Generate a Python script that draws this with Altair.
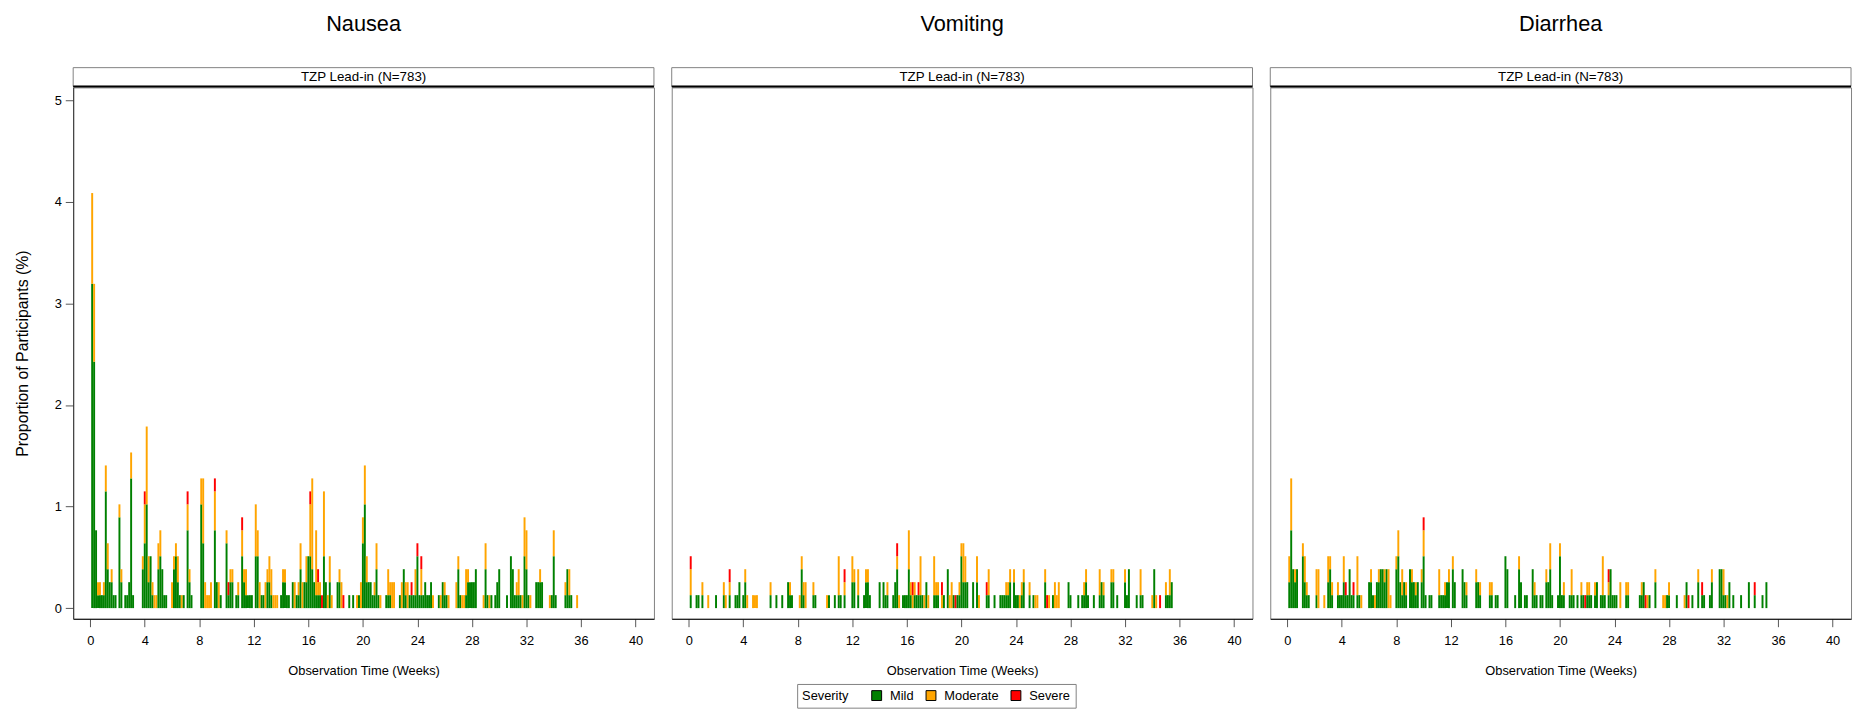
import altair as alt
import pandas as pd

N_PARTICIPANTS = 783
PANELS = ["Nausea", "Vomiting", "Diarrhea"]
HEADER = "TZP Lead-in (N=783)"
SEVERITIES = ["Mild", "Moderate", "Severe"]
COLORS = ["#008000", "#FFA500", "#FF0000"]
X_TICKS = list(range(0, 41, 4))
Y_TICKS = [0, 1, 2, 3, 4, 5]

# (study day, mild count, moderate count, severe count)
NAUSEA = [
    (1, 25, 7, 0), (2, 19, 6, 0), (3, 6, 0, 0), (4, 1, 1, 0), (5, 1, 1, 0), (6, 1, 0, 0), (7, 1, 1, 0),
    (8, 9, 2, 0), (9, 3, 2, 0), (10, 2, 0, 0), (11, 2, 1, 0), (12, 1, 0, 0), (13, 1, 0, 0), (15, 7, 1, 0),
    (16, 2, 1, 0), (18, 1, 0, 0), (19, 1, 0, 0), (20, 2, 0, 0), (21, 10, 2, 0), (22, 1, 0, 0),
    (27, 3, 1, 0), (28, 5, 3, 1), (29, 8, 6, 0), (30, 2, 2, 0), (31, 4, 0, 0), (32, 1, 1, 0), (33, 0, 1, 0),
    (34, 0, 1, 0), (35, 3, 2, 0), (36, 4, 2, 0), (37, 3, 0, 0), (38, 1, 0, 0), (39, 1, 0, 0), (42, 0, 2, 0),
    (43, 3, 1, 0), (44, 4, 1, 0), (45, 2, 2, 0), (46, 1, 0, 0), (47, 0, 1, 0), (48, 1, 0, 0),
    (50, 6, 2, 1), (51, 2, 1, 0), (52, 1, 0, 0), (57, 8, 2, 0), (58, 5, 5, 0), (59, 0, 2, 0), (60, 0, 1, 0),
    (61, 0, 1, 0), (62, 0, 2, 0), (64, 6, 3, 1), (65, 2, 0, 0), (66, 0, 2, 0), (67, 1, 0, 0),
    (70, 5, 1, 0), (71, 1, 0, 1), (72, 2, 1, 0), (73, 2, 1, 0), (75, 1, 0, 0), (76, 1, 1, 0), (78, 4, 2, 1),
    (79, 2, 1, 0), (80, 1, 2, 0), (81, 1, 0, 0), (82, 1, 0, 0), (83, 1, 0, 0),
    (85, 4, 4, 0), (86, 4, 2, 0), (87, 0, 2, 0), (88, 1, 0, 0), (89, 1, 0, 0), (90, 0, 2, 0), (91, 2, 1, 0),
    (92, 2, 2, 0), (93, 1, 2, 0), (94, 0, 1, 0), (95, 0, 1, 0), (96, 0, 1, 0),
    (98, 1, 0, 0), (99, 2, 1, 0), (100, 2, 1, 0), (101, 1, 0, 0), (102, 1, 0, 0), (104, 2, 0, 0),
    (105, 0, 2, 0), (106, 1, 0, 0), (107, 1, 1, 0), (108, 3, 2, 0), (109, 0, 2, 0), (110, 2, 0, 0),
    (111, 2, 2, 0), (112, 4, 0, 0), (113, 4, 4, 1), (114, 3, 7, 0), (115, 2, 0, 0), (116, 1, 5, 0),
    (117, 1, 1, 1), (118, 1, 1, 0), (119, 0, 0, 1), (120, 4, 5, 0), (121, 2, 0, 0), (122, 0, 1, 0),
    (123, 2, 2, 0), (124, 0, 1, 0), (127, 2, 0, 0), (128, 2, 1, 0), (129, 0, 2, 0), (130, 0, 0, 1),
    (133, 1, 0, 0), (135, 1, 0, 0), (137, 0, 1, 0), (138, 1, 0, 0), (139, 0, 2, 0), (140, 5, 2, 0),
    (141, 8, 3, 0), (142, 2, 2, 0), (143, 2, 0, 0), (144, 2, 0, 0), (145, 1, 0, 0), (146, 1, 1, 0),
    (147, 3, 2, 0), (148, 1, 0, 0), (149, 0, 1, 0), (152, 1, 0, 0), (153, 1, 2, 0), (154, 1, 1, 0),
    (155, 0, 2, 0), (156, 0, 2, 0), (159, 1, 0, 0), (160, 0, 2, 0), (161, 3, 0, 0), (162, 1, 1, 0),
    (163, 0, 2, 0), (164, 1, 0, 0), (165, 1, 0, 1), (166, 1, 0, 0), (167, 1, 2, 0), (168, 4, 0, 1),
    (169, 1, 0, 0), (170, 1, 2, 1), (171, 1, 0, 0), (172, 2, 0, 0), (173, 1, 0, 0), (174, 1, 0, 0),
    (175, 2, 0, 0), (176, 0, 1, 0), (179, 1, 0, 0), (180, 0, 1, 0), (181, 2, 0, 0), (182, 1, 1, 0),
    (183, 1, 0, 0), (184, 0, 1, 0), (188, 0, 2, 0), (189, 3, 1, 0), (190, 1, 0, 0), (191, 0, 1, 0),
    (192, 0, 1, 0), (193, 1, 2, 0), (194, 2, 1, 0), (195, 2, 0, 0), (196, 2, 0, 0), (197, 2, 0, 0),
    (198, 3, 0, 0), (202, 0, 1, 0), (203, 3, 2, 0), (204, 1, 0, 0), (205, 0, 1, 0), (206, 1, 0, 0),
    (208, 1, 0, 0), (209, 2, 0, 0), (210, 3, 0, 0), (214, 1, 0, 0), (216, 4, 0, 0), (217, 3, 0, 0),
    (218, 1, 0, 0), (219, 1, 1, 0), (220, 1, 2, 0), (221, 1, 0, 0), (222, 0, 1, 0), (223, 4, 3, 0),
    (224, 3, 3, 0), (225, 1, 0, 0), (226, 0, 1, 0), (229, 2, 0, 0), (230, 2, 0, 0), (231, 2, 1, 0),
    (232, 2, 0, 0), (236, 0, 1, 0), (237, 1, 0, 0), (238, 4, 2, 0), (239, 1, 0, 0), (244, 1, 1, 0),
    (245, 3, 0, 0), (246, 1, 2, 0), (247, 1, 0, 0), (250, 0, 1, 0),
]

VOMITING = [
    (1, 1, 2, 1), (4, 1, 0, 0), (5, 1, 0, 0), (7, 1, 1, 0), (10, 0, 1, 0), (14, 1, 0, 0), (18, 1, 1, 0),
    (19, 0, 1, 0), (21, 1, 1, 1), (24, 1, 0, 0), (25, 1, 0, 0), (26, 2, 0, 0), (28, 1, 0, 0), (29, 2, 1, 0),
    (30, 0, 1, 0), (33, 0, 1, 0), (34, 0, 1, 0), (35, 0, 1, 0),
    (42, 1, 1, 0), (45, 1, 0, 0), (48, 1, 0, 0), (51, 2, 0, 0), (52, 1, 1, 0), (53, 1, 0, 0), (57, 0, 1, 0),
    (58, 3, 1, 0), (59, 1, 1, 0), (60, 0, 2, 0), (64, 1, 1, 0), (65, 1, 0, 0), (71, 0, 1, 0), (72, 1, 0, 0),
    (75, 1, 0, 0), (77, 1, 3, 0), (78, 1, 0, 0), (80, 1, 1, 1),
    (84, 2, 2, 0), (85, 2, 1, 0), (87, 1, 2, 0), (90, 1, 0, 0), (91, 2, 1, 0), (92, 2, 1, 0), (93, 1, 0, 0),
    (98, 2, 0, 0), (100, 2, 0, 0), (101, 1, 0, 0), (102, 1, 1, 0), (105, 1, 0, 0), (106, 2, 0, 0),
    (107, 3, 1, 1), (108, 0, 1, 0), (110, 1, 0, 0), (111, 1, 0, 0), (112, 1, 0, 0), (113, 3, 3, 0),
    (114, 1, 1, 0), (115, 0, 1, 1), (116, 1, 1, 0), (117, 1, 0, 0), (118, 1, 0, 1), (119, 1, 3, 0),
    (120, 1, 0, 0), (121, 0, 1, 0), (122, 2, 0, 0), (123, 0, 1, 0), (126, 1, 3, 0), (127, 1, 1, 0),
    (128, 1, 1, 0), (130, 0, 1, 1), (131, 1, 0, 0), (133, 3, 0, 0), (134, 0, 1, 0), (135, 0, 2, 0),
    (136, 1, 0, 0), (137, 0, 0, 1), (138, 1, 0, 0), (139, 1, 1, 0), (140, 4, 1, 0), (141, 2, 3, 0),
    (142, 2, 2, 0), (143, 2, 0, 0), (146, 2, 0, 0), (148, 2, 2, 0), (149, 0, 1, 0), (153, 1, 0, 1),
    (154, 1, 2, 0), (157, 1, 0, 0), (160, 1, 0, 0), (161, 1, 0, 0), (162, 1, 0, 0), (163, 1, 1, 0),
    (164, 1, 1, 0), (165, 2, 1, 0), (167, 2, 1, 0), (168, 1, 0, 0), (169, 1, 0, 0), (170, 0, 1, 0),
    (171, 1, 1, 0), (172, 2, 1, 0), (175, 1, 1, 0), (177, 1, 0, 0), (178, 0, 1, 0), (179, 0, 1, 0),
    (183, 2, 1, 0), (184, 0, 0, 1), (185, 0, 1, 0), (187, 1, 0, 0), (188, 0, 2, 0), (189, 0, 1, 0),
    (190, 0, 2, 0), (195, 2, 0, 0), (196, 1, 0, 0), (200, 1, 0, 0), (202, 1, 0, 0), (203, 1, 1, 0),
    (204, 2, 1, 0), (205, 1, 0, 0), (208, 1, 0, 0), (211, 1, 2, 0), (212, 2, 0, 0), (213, 1, 1, 0),
    (217, 2, 1, 0), (218, 2, 1, 0), (220, 1, 0, 0), (224, 2, 1, 0), (225, 1, 0, 0), (226, 3, 0, 0),
    (230, 1, 0, 0), (232, 1, 2, 0), (233, 1, 0, 0), (238, 0, 1, 0), (239, 3, 0, 0), (240, 0, 1, 0),
    (242, 0, 0, 1), (245, 1, 1, 0), (246, 1, 0, 0), (247, 1, 2, 0), (248, 2, 0, 0),
]

DIARRHEA = [
    (1, 2, 2, 0), (2, 6, 4, 0), (3, 3, 0, 0), (4, 2, 1, 0), (5, 3, 0, 0), (8, 4, 1, 0), (9, 2, 2, 0),
    (10, 1, 1, 0), (11, 1, 0, 0), (15, 1, 2, 0), (16, 0, 3, 0), (19, 0, 1, 0), (21, 2, 2, 0), (22, 3, 1, 0),
    (23, 1, 1, 0), (26, 1, 1, 0), (27, 1, 0, 0), (28, 1, 0, 0), (29, 2, 2, 0), (30, 1, 0, 1), (31, 1, 0, 0),
    (32, 3, 0, 0), (33, 1, 0, 0), (34, 1, 0, 1), (36, 1, 3, 0), (37, 1, 0, 0), (38, 0, 1, 0),
    (42, 2, 0, 0), (43, 2, 1, 0), (44, 1, 0, 0), (45, 0, 1, 0), (46, 2, 0, 0), (47, 2, 1, 0), (48, 3, 0, 0),
    (49, 3, 0, 0), (50, 2, 1, 0), (51, 3, 0, 0), (52, 0, 3, 0), (53, 0, 1, 0), (56, 3, 1, 0), (57, 4, 2, 0),
    (58, 2, 0, 0), (59, 1, 2, 0), (60, 2, 0, 0), (61, 1, 1, 0), (63, 3, 0, 0), (64, 2, 1, 0), (65, 2, 0, 0),
    (66, 1, 1, 0), (67, 2, 0, 0), (69, 2, 1, 0), (70, 4, 2, 1), (71, 1, 0, 0), (73, 1, 0, 0), (74, 1, 0, 0),
    (78, 1, 2, 0), (79, 1, 0, 0), (80, 1, 0, 0), (81, 1, 1, 0), (82, 2, 0, 0), (83, 2, 1, 0), (85, 3, 1, 0),
    (86, 2, 0, 0), (90, 3, 0, 0), (91, 2, 0, 0), (92, 1, 1, 0), (97, 2, 1, 0), (98, 2, 0, 0), (99, 1, 1, 0),
    (104, 1, 1, 0), (105, 1, 1, 0), (107, 1, 0, 0), (108, 1, 0, 0), (112, 4, 0, 0), (113, 3, 0, 0),
    (117, 1, 0, 0), (119, 3, 1, 0), (120, 2, 0, 0), (122, 1, 0, 0), (123, 1, 0, 0), (126, 3, 0, 0),
    (127, 1, 1, 0), (128, 1, 0, 0), (130, 1, 0, 0), (131, 1, 0, 0), (133, 2, 1, 0), (134, 2, 0, 0),
    (135, 3, 2, 0), (136, 1, 0, 0), (139, 1, 0, 0), (140, 4, 1, 0), (141, 1, 0, 0), (142, 1, 1, 0),
    (145, 1, 0, 0), (146, 1, 2, 0), (147, 1, 0, 0), (149, 1, 0, 0),
    (151, 1, 1, 0), (152, 1, 0, 0), (153, 0, 0, 1), (154, 1, 1, 0), (155, 1, 1, 0), (156, 1, 0, 0),
    (158, 1, 1, 0), (159, 2, 0, 0), (161, 1, 0, 0), (162, 1, 3, 0), (163, 1, 0, 0), (165, 1, 1, 1),
    (166, 3, 0, 0), (167, 1, 0, 0), (168, 1, 0, 0), (169, 1, 0, 0), (171, 0, 2, 0), (174, 1, 1, 0),
    (175, 1, 1, 0), (181, 1, 0, 0), (182, 1, 1, 0), (183, 2, 0, 0), (184, 0, 0, 1), (185, 0, 1, 0),
    (186, 1, 0, 0), (189, 2, 1, 0), (193, 0, 1, 0), (194, 0, 1, 0), (195, 1, 0, 0), (196, 1, 1, 0),
    (200, 1, 0, 0), (204, 0, 1, 0), (205, 2, 0, 0), (206, 0, 0, 1), (208, 1, 0, 0), (211, 2, 1, 0),
    (213, 1, 0, 1), (214, 1, 0, 0), (217, 1, 0, 0), (218, 2, 1, 0), (222, 3, 0, 0), (223, 3, 0, 0),
    (224, 1, 2, 0), (225, 1, 0, 0), (226, 0, 1, 0), (227, 2, 0, 0), (229, 1, 0, 0), (233, 1, 0, 0),
    (237, 2, 0, 0), (240, 1, 0, 1), (244, 1, 0, 0), (246, 2, 0, 0),
]

FONT = "Liberation Sans"
W, H = 588, 538
XDOM = [-1.25, 41.35]
YDOM = [-0.105, 5.127]

rows = []
for name, table in zip(PANELS, [NAUSEA, VOMITING, DIARRHEA]):
    for day, *counts in table:
        for k, (sev, c) in enumerate(zip(SEVERITIES, counts)):
            if c > 0:
                rows.append({"panel": name, "day": day, "severity": sev, "rank": k,
                             "pct": c * 100.0 / N_PARTICIPANTS})
df = pd.DataFrame(rows)

legend = alt.Legend(
    orient="none", legendX=733, legendY=604, direction="horizontal",
    title="Severity", titleOrient="left", titleFont=FONT, titleFontSize=13,
    titleFontWeight="normal", titleColor="black", titlePadding=22,
    labelFont=FONT, labelFontSize=13, labelColor="black", labelOffset=7,
    symbolType="square", symbolSize=100, symbolStrokeColor="black",
    symbolStrokeWidth=1, symbolOpacity=1, columnPadding=10, padding=5,
    strokeColor="#808080", fillColor="white",
)

AXIS_TXT = dict(labelFont=FONT, labelFontSize=13, labelColor="black", titleFont=FONT,
                titleFontWeight="normal", titleColor="black", tickColor="#555555",
                tickSize=8, grid=False)


def make_panel(name, first):
    src = df[df["panel"] == name]
    bars = alt.Chart(src).transform_calculate(
        x0="(datum.day - 0.5) / 7", x1="(datum.day + 0.5) / 7"
    ).transform_stack(
        stack="pct", groupby=["day"], as_=["y0", "y1"], sort=[alt.SortField("rank", order="ascending")]
    ).mark_bar().encode(
        x=alt.X("x0:Q", scale=alt.Scale(domain=XDOM, nice=False, zero=False),
                axis=alt.Axis(values=X_TICKS, title="Observation Time (Weeks)", titleFontSize=13,
                              labelPadding=8, titlePadding=17, domainColor="black", **AXIS_TXT)),
        x2="x1:Q",
        y=alt.Y("y0:Q", scale=alt.Scale(domain=YDOM, nice=False, zero=False),
                axis=alt.Axis(values=Y_TICKS, title="Proportion of Participants (%)", titleFontSize=16,
                              labelPadding=4, titlePadding=24, domainColor="#333333",
                              **AXIS_TXT) if first else None),
        y2="y1:Q",
        color=alt.Color("severity:N", scale=alt.Scale(domain=SEVERITIES, range=COLORS), legend=legend),
    )
    one = alt.Data(values=[{"label": HEADER}])
    box = alt.Chart(one).mark_rect(fill="white", stroke="#808080", strokeWidth=1).encode(
        x=alt.value(0), x2=alt.value(W), y=alt.value(-20), y2=alt.value(-1))
    line = alt.Chart(one).mark_rule(color="black", strokeWidth=2).encode(
        x=alt.value(0), x2=alt.value(W), y=alt.value(-1))
    txt = alt.Chart(one).mark_text(font=FONT, fontSize=13.5, color="black").encode(
        x=alt.value(W / 2), y=alt.value(-10.5), text="label:N")
    return alt.layer(bars, box, line, txt).properties(
        width=W, height=H,
        title=alt.TitleParams(name, font=FONT, fontSize=22, fontWeight="normal",
                              color="black", offset=32),
    )


chart = alt.hconcat(*[make_panel(p, i == 0) for i, p in enumerate(PANELS)], spacing=14).properties(
    padding={"left": 6, "top": 0, "right": 0, "bottom": 0},
    background="white",
).configure_view(stroke="#808080", strokeWidth=1)

chart.save("out.html", embed_options={"renderer": "svg", "actions": False})
